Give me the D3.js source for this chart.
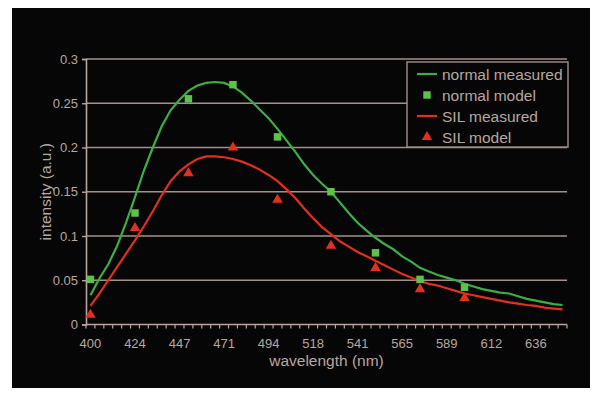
<!DOCTYPE html>
<html>
<head>
<script src="https://d3js.org/d3.v7.min.js"></script>
<style>
  body { margin: 0; background: #fff; }
  text { font-family: "Liberation Sans", Arial, sans-serif; }
</style>
</head>
<body>
<svg id="chart" width="600" height="396"></svg>
<script>
// wavelength categories (nm) of the measured spectra
var wavelengths = [400, 405, 409, 414, 419, 424, 428, 433, 438, 442,
    447, 452, 457, 461, 466, 471, 475, 480, 485, 490,
    494, 499, 504, 508, 513, 518, 522, 527, 532, 537,
    541, 546, 551, 556, 560, 565, 570, 575, 579, 584,
    589, 593, 598, 603, 607, 612, 617, 622, 626, 631,
    636, 641, 645, 650];

var normalMeasured = [0.033, 0.052, 0.068, 0.089, 0.115, 0.144, 0.174, 0.200, 0.224, 0.242,
    0.254, 0.264, 0.270, 0.273, 0.274, 0.273, 0.269, 0.262, 0.253, 0.243,
    0.233, 0.221, 0.208, 0.195, 0.181, 0.169, 0.159, 0.150, 0.138, 0.126,
    0.115, 0.106, 0.098, 0.091, 0.085, 0.077, 0.071, 0.064, 0.060, 0.056,
    0.053, 0.050, 0.046, 0.043, 0.040, 0.038, 0.036, 0.035, 0.032, 0.029,
    0.027, 0.025, 0.023, 0.022];

var silMeasured = [0.021, 0.035, 0.050, 0.065, 0.080, 0.095, 0.111, 0.128, 0.146, 0.162,
    0.173, 0.181, 0.187, 0.190, 0.190, 0.189, 0.187, 0.184, 0.180, 0.175,
    0.169, 0.162, 0.153, 0.143, 0.131, 0.120, 0.110, 0.102, 0.094, 0.088,
    0.082, 0.077, 0.072, 0.067, 0.062, 0.057, 0.053, 0.049, 0.046, 0.044,
    0.041, 0.038, 0.035, 0.033, 0.031, 0.029, 0.027, 0.025, 0.0235, 0.022,
    0.021, 0.019, 0.018, 0.017];

// model points sit on these categories
var modelWavelengths = [400, 424, 452, 475, 499, 527, 551, 575, 598];
var normalModel = [0.051, 0.126, 0.255, 0.271, 0.212, 0.150, 0.081, 0.051, 0.042];
var silModel = [0.011, 0.109, 0.171, 0.200, 0.141, 0.089, 0.064, 0.040, 0.030];

var yTicks = [0, 0.05, 0.1, 0.15, 0.2, 0.25, 0.3];
var yTickLabels = ["0", "0.05", "0.1", "0.15", "0.2", "0.25", "0.3"];
var xTickLabels = ["400", "424", "447", "471", "494", "518", "541", "565", "589", "612", "636"];

var legendNames = ["normal measured", "normal model", "SIL measured", "SIL model"];

var green = "#3cae44", greenMark = "#5cc24a", red = "#e0301e";
var fg = "#b9a69e", grid = "#a3908a";

var svg = d3.select("#chart");
var plot = { left: 86, right: 567, top: 59, bottom: 324.5 };

svg.append("rect")
    .attr("x", 12).attr("y", 8)
    .attr("width", 578).attr("height", 380)
    .attr("fill", "#060606");

var x = d3.scaleBand()
    .domain(wavelengths)
    .range([plot.left, plot.right]);
var bw = x.bandwidth();
var xc = function (w) { return x(w) + bw / 2; };

var y = d3.scaleLinear()
    .domain([0, 0.3])
    .range([plot.bottom, plot.top]);

// gridlines
svg.append("g").selectAll("line")
    .data(yTicks.slice(1))
    .enter().append("line")
    .attr("x1", plot.left).attr("x2", plot.right)
    .attr("y1", d => y(d)).attr("y2", d => y(d))
    .attr("stroke", grid).attr("stroke-width", 1.6);

// y axis
var yAxis = d3.axisLeft(y)
    .tickValues(yTicks)
    .tickSize(4)
    .tickPadding(4)
    .tickFormat((d, i) => yTickLabels[i]);
var gy = svg.append("g")
    .attr("transform", "translate(" + plot.left + ",0)")
    .call(yAxis);
gy.select(".domain").attr("stroke", fg).attr("stroke-width", 1.6);
gy.selectAll(".tick line").attr("stroke", fg).attr("stroke-width", 1.4);
gy.selectAll(".tick text").attr("fill", fg).style("font-size", "13px")
    .style("font-family", "'Liberation Sans', Arial, sans-serif");

// x axis (category axis)
var gx = svg.append("g");
gx.append("line")
    .attr("x1", plot.left).attr("x2", plot.right)
    .attr("y1", plot.bottom).attr("y2", plot.bottom)
    .attr("stroke", fg).attr("stroke-width", 1.6);
gx.selectAll(".xt")
    .data(wavelengths.concat([null]))
    .enter().append("line")
    .attr("class", "xt")
    .attr("x1", (d, i) => plot.left + i * bw)
    .attr("x2", (d, i) => plot.left + i * bw)
    .attr("y1", plot.bottom).attr("y2", plot.bottom + 4)
    .attr("stroke", fg).attr("stroke-width", 1.2);
gx.selectAll(".xl")
    .data(xTickLabels)
    .enter().append("text")
    .attr("class", "xl")
    .attr("x", (d, i) => xc(wavelengths[i * 5]))
    .attr("y", plot.bottom + 23)
    .attr("text-anchor", "middle")
    .attr("fill", fg)
    .style("font-size", "13px")
    .text(d => d);

// axis titles
svg.append("text")
    .attr("x", (plot.left + plot.right) / 2)
    .attr("y", 366)
    .attr("text-anchor", "middle")
    .attr("fill", fg)
    .style("font-size", "15.5px")
    .text("wavelength (nm)");
svg.append("text")
    .attr("transform", "translate(51," + (plot.top + plot.bottom) / 2 + ") rotate(-90)")
    .attr("text-anchor", "middle")
    .attr("fill", fg)
    .style("font-size", "15.5px")
    .text("intensity (a.u.)");

// measured lines
var line = d3.line()
    .x((d, i) => xc(wavelengths[i]))
    .y(d => y(d));
svg.append("path").datum(normalMeasured)
    .attr("d", line).attr("fill", "none")
    .attr("stroke", green).attr("stroke-width", 2.2);
svg.append("path").datum(silMeasured)
    .attr("d", line).attr("fill", "none")
    .attr("stroke", red).attr("stroke-width", 2.2);

// model markers
var sq = d3.symbol().type(d3.symbolSquare).size(56);
var tri = d3.symbol().type(d3.symbolTriangle).size(48);
svg.append("g").selectAll("path")
    .data(normalModel)
    .enter().append("path")
    .attr("d", sq)
    .attr("transform", (d, i) => "translate(" + xc(modelWavelengths[i]) + "," + y(d) + ")")
    .attr("fill", greenMark);
svg.append("g").selectAll("path")
    .data(silModel)
    .enter().append("path")
    .attr("d", tri)
    .attr("transform", (d, i) => "translate(" + xc(modelWavelengths[i]) + "," + y(d) + ")")
    .attr("fill", red);

// legend
var lg = svg.append("g");
lg.append("rect")
    .attr("x", 407).attr("y", 62)
    .attr("width", 161).attr("height", 85)
    .attr("fill", "#060606")
    .attr("stroke", grid).attr("stroke-width", 1.4);
var items = lg.selectAll(".li")
    .data(legendNames)
    .enter().append("g")
    .attr("class", "li")
    .attr("transform", (d, i) => "translate(0," + (74 + i * 21) + ")");
items.append("text")
    .attr("x", 442).attr("y", 5.5)
    .attr("fill", fg)
    .style("font-size", "15.5px")
    .text(d => d);
items.filter((d, i) => i % 2 === 0).append("line")
    .attr("x1", 417).attr("x2", 437)
    .attr("stroke", (d, i) => i === 0 ? green : red)
    .attr("stroke-width", 2.2);
items.filter((d, i) => i === 1).append("path")
    .attr("d", sq).attr("transform", "translate(427,0)")
    .attr("fill", greenMark);
items.filter((d, i) => i === 3).append("path")
    .attr("d", tri).attr("transform", "translate(427,0)")
    .attr("fill", red);
</script>
</body>
</html>
